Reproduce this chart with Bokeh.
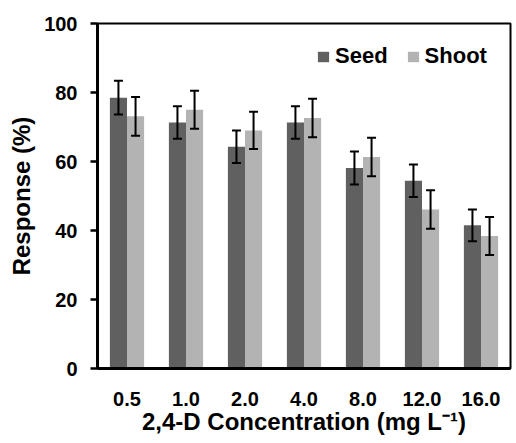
from bokeh.plotting import figure
from bokeh.models import (ColumnDataSource, FactorRange, Range1d, FixedTicker, Whisker,
                          TeeHead, Legend, LegendItem)
from bokeh.transform import dodge
from bokeh.embed import file_html
from bokeh.resources import INLINE

categories = ["0.5", "1.0", "2.0", "4.0", "8.0", "12.0", "16.0"]
seed = [78.5, 71.3, 64.3, 71.3, 58.1, 54.4, 41.5]
seed_err = [4.9, 4.7, 4.7, 4.7, 4.8, 4.7, 4.6]
shoot = [73.1, 75.0, 69.0, 72.6, 61.3, 46.1, 38.4]
shoot_err = [5.6, 5.5, 5.4, 5.6, 5.6, 5.6, 5.5]
y_ticks = [0, 20, 40, 60, 80, 100]

src = ColumnDataSource(dict(
    cat=categories, seed=seed, shoot=shoot,
    seed_up=[v + e for v, e in zip(seed, seed_err)],
    seed_lo=[v - e for v, e in zip(seed, seed_err)],
    shoot_up=[v + e for v, e in zip(shoot, shoot_err)],
    shoot_lo=[v - e for v, e in zip(shoot, shoot_err)],
))

FONT = "Liberation Sans"
SEED_C = "#606060"
SHOOT_C = "#b3b3b3"

p = figure(x_range=FactorRange(*categories, range_padding=0), y_range=Range1d(0, 100),
           width=512, height=441, output_backend="svg", toolbar_location=None,
           min_border_left=97, min_border_right=2, min_border_top=23, min_border_bottom=73)

off = 0.145
bw = 0.29
r1 = p.vbar(x=dodge("cat", -off, range=p.x_range), top="seed", width=bw, source=src,
            fill_color=SEED_C, line_color=None)
r2 = p.vbar(x=dodge("cat", off, range=p.x_range), top="shoot", width=bw, source=src,
            fill_color=SHOOT_C, line_color=None)

for o, up, lo in [(-off, "seed_up", "seed_lo"), (off, "shoot_up", "shoot_lo")]:
    w = Whisker(base=dodge("cat", o, range=p.x_range), upper=up, lower=lo, source=src,
                line_color="black", line_width=2, level="overlay",
                upper_head=TeeHead(size=9, line_width=2, line_color="black"),
                lower_head=TeeHead(size=9, line_width=2, line_color="black"))
    p.add_layout(w)

p.xgrid.visible = False
p.ygrid.visible = False
p.outline_line_color = "black"
p.outline_line_width = 2
p.outline_line_alpha = 1

p.yaxis.ticker = FixedTicker(ticks=y_ticks)
p.yaxis.minor_tick_line_color = None
p.yaxis.major_tick_in = 0
p.yaxis.major_tick_out = 7
p.yaxis.major_tick_line_width = 2.5
p.yaxis.axis_line_width = 3
p.yaxis.major_label_standoff = 13
p.yaxis.axis_label = "Response (%)"
p.yaxis.axis_label_standoff = 6

p.xaxis.major_tick_in = 0
p.xaxis.major_tick_out = 0
p.xaxis.major_tick_line_color = None
p.xaxis.axis_line_width = 3
p.xaxis.major_label_standoff = 23
p.xaxis.axis_label = "2,4-D Concentration (mg L\u207b\u00b9)"
p.xaxis.axis_label_standoff = -1

for ax in [p.xaxis, p.yaxis]:
    ax.major_label_text_font = FONT
    ax.major_label_text_font_style = "bold"
    ax.major_label_text_font_size = "20px"
    ax.major_label_text_color = "black"
    ax.axis_label_text_font = FONT
    ax.axis_label_text_font_style = "bold"
    ax.axis_label_text_font_size = "24px"
    ax.axis_label_text_color = "black"
    ax.axis_line_color = "black"

legend = Legend(items=[LegendItem(label="Seed", renderers=[r1]),
                       LegendItem(label="Shoot", renderers=[r2])],
                orientation="horizontal", location=(219, 299),
                glyph_width=14, glyph_height=13, label_standoff=5, spacing=18,
                label_text_font=FONT, label_text_font_style="bold",
                label_text_font_size="22px", label_text_color="black",
                background_fill_alpha=0, border_line_color=None,
                margin=0, padding=8)
p.add_layout(legend)

open("out.html", "w").write(file_html(p, INLINE))
